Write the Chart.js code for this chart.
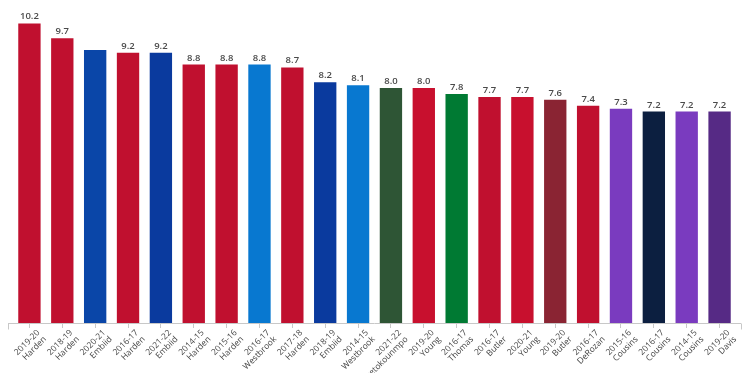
<!DOCTYPE html>
<html>
<head>
<meta charset="utf-8">
<script src="https://cdn.jsdelivr.net/npm/chart.js@4"></script>
<style>
html,body{margin:0;padding:0;background:#fff;}
#wrap{width:750px;height:373px;position:relative;}
</style>
</head>
<body>
<div id="wrap"><canvas id="c"></canvas></div>
<script>
const seasons = ["2019-20","2018-19","2020-21","2016-17","2021-22","2014-15","2015-16","2016-17","2017-18","2018-19","2014-15","2021-22","2019-20","2016-17","2016-17","2020-21","2019-20","2016-17","2015-16","2016-17","2014-15","2019-20"];
const players = ["Harden","Harden","Embiid","Harden","Embiid","Harden","Harden","Westbrook","Harden","Embiid","Westbrook","Antetokounmpo","Young","Thomas","Butler","Young","Butler","DeRozan","Cousins","Cousins","Cousins","Davis"];
const values = [10.2,9.7,9.3,9.2,9.2,8.8,8.8,8.8,8.7,8.2,8.1,8.0,8.0,7.8,7.7,7.7,7.6,7.4,7.3,7.2,7.2,7.2];
const valueLabels = ["10.2","9.7","","9.2","9.2","8.8","8.8","8.8","8.7","8.2","8.1","8.0","8.0","7.8","7.7","7.7","7.6","7.4","7.3","7.2","7.2","7.2"];
const barColors = ["#C0102F","#C0102F","#0A46A8","#C0102F","#0A3A9E","#C0102F","#C0102F","#0878D0","#C0102F","#0A3A9E","#0878D0","#2E5535","#C8102E","#007A33","#C0102F","#C8102E","#8A2433","#C0102F","#7A3BBF","#0C1F40","#7A3BBF","#562A85"];

const categories = seasons.map((s,i)=>[s, players[i]]);

const valueLabelPlugin = {
  id:'valueLabels',
  afterDatasetsDraw(chart){
    const ctx = chart.ctx;
    const meta = chart.getDatasetMeta(0);
    ctx.save();
    ctx.font = '600 9.5px "Open Sans", sans-serif';
    ctx.fillStyle = '#4a4a4a';
    ctx.textAlign = 'center';
    ctx.textBaseline = 'bottom';
    meta.data.forEach((bar,i)=>{
      if(valueLabels[i]) ctx.fillText(valueLabels[i], bar.x, bar.y - 2);
    });
    ctx.restore();
  }
};

const axisPlugin = {
  id:'axisLine',
  afterDraw(chart){
    const ctx = chart.ctx;
    const area = chart.chartArea;
    const y = area.bottom + 0.5;
    const x0 = area.left - 5, x1 = area.right + 5;
    ctx.save();
    ctx.strokeStyle = '#c8c8c8';
    ctx.lineWidth = 1;
    ctx.beginPath();
    ctx.moveTo(x0, y); ctx.lineTo(x1, y);
    ctx.moveTo(Math.round(x0)+0.5, y); ctx.lineTo(Math.round(x0)+0.5, y+6);
    ctx.moveTo(Math.round(x1)+0.5, y); ctx.lineTo(Math.round(x1)+0.5, y+6);
    ctx.stroke();
    ctx.restore();
  }
};

new Chart(document.getElementById('c'), {
  type:'bar',
  data:{
    labels: categories,
    datasets:[{
      data: values,
      backgroundColor: barColors,
      borderWidth: 0,
      barPercentage: 0.68,
      categoryPercentage: 1.0
    }]
  },
  options:{
    responsive:true,
    maintainAspectRatio:false,
    animation:false,
    layout:{padding:{left:13,right:14,top:0,bottom:0}},
    plugins:{legend:{display:false},tooltip:{enabled:false}},
    scales:{
      x:{
        grid:{display:true,drawOnChartArea:false,drawTicks:true,tickLength:5,color:'#c8c8c8',offset:false},
        border:{display:false},
        ticks:{
          minRotation:45,maxRotation:45,autoSkip:false,
          color:'#444',
          font:{family:'"Open Sans", sans-serif',size:8.5,lineHeight:1.1},
          padding:0,
          labelOffset:9
        },
        afterFit(scale){ scale.height = 50; }
      },
      y:{
        display:false,
        min:0,max:11
      }
    }
  },
  plugins:[valueLabelPlugin, axisPlugin]
});
</script>
</body>
</html>
